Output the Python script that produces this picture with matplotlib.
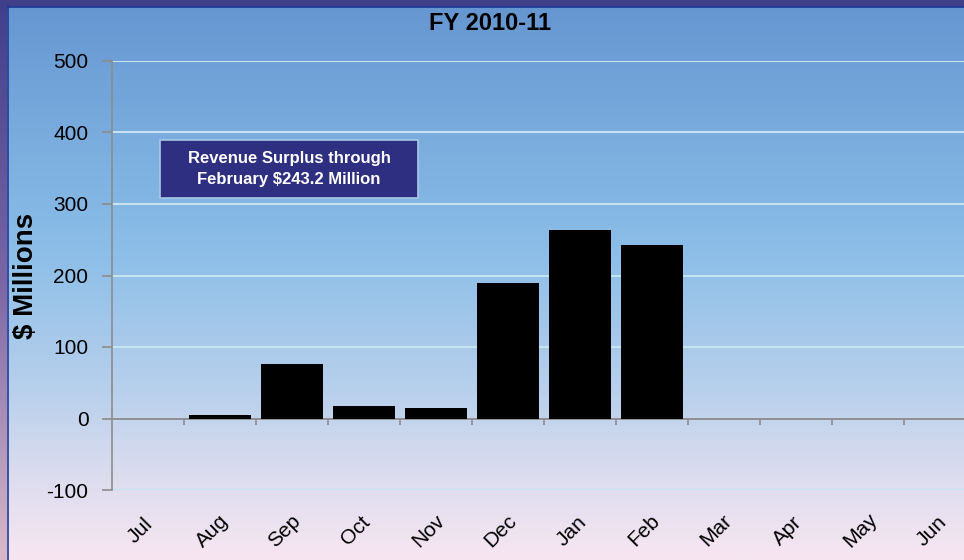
import matplotlib.pyplot as plt
import numpy as np
from matplotlib.colors import LinearSegmentedColormap
from matplotlib.patches import Rectangle

months = ["Jul", "Aug", "Sep", "Oct", "Nov", "Dec", "Jan", "Feb", "Mar", "Apr", "May", "Jun"]
surplus = [0, 5, 76, 18, 14, 190, 263, 243, 0, 0, 0, 0]
yticks = [-100, 0, 100, 200, 300, 400, 500]
note = "Revenue Surplus through\nFebruary $243.2 Million"

plt.rcParams['font.family'] = ['Liberation Sans', 'DejaVu Sans']

W, H = 964, 560
fig = plt.figure(figsize=(W / 100, H / 100), dpi=100)

# background gradient
bg = fig.add_axes([0, 0, 1, 1], zorder=-10)
bg_cmap = LinearSegmentedColormap.from_list(
    "bg", [(0, "#6595cf"), (0.2, "#76a8dc"), (0.45, "#8cbee8"),
           (0.7, "#b8d0ec"), (0.85, "#dcdcef"), (1, "#f7e6f1")])
bg.imshow(np.linspace(0, 1, 256).reshape(-1, 1), aspect="auto", cmap=bg_cmap,
          extent=[0, 1, 1, 0])
bg.set_xlim(0, 1)
bg.set_ylim(1, 0)
bg.axis("off")

# outer frame strips
left_cmap = LinearSegmentedColormap.from_list("lf", ["#3f3f8a", "#7a66a6", "#d9b9c9"])
lf = fig.add_axes([0, 0, 7 / W, 1], zorder=-5)
lf.imshow(np.linspace(0, 1, 256).reshape(-1, 1), aspect="auto", cmap=left_cmap)
lf.axis("off")
fig.patches.append(Rectangle((0, 1 - 6 / H), 1, 6 / H, transform=fig.transFigure,
                             color="#40408a", zorder=-4))
fig.lines.append(plt.Line2D([7.5 / W, 7.5 / W], [0, 1 - 6 / H], transform=fig.transFigure,
                            color="#1f3a96", lw=1.2))
fig.lines.append(plt.Line2D([7.5 / W, 1], [1 - 6.5 / H, 1 - 6.5 / H], transform=fig.transFigure,
                            color="#1f3a96", lw=1.2))

ax = fig.add_axes([112 / W, 70 / H, 864 / W, 429 / H])
ax.patch.set_alpha(0)
x = np.arange(len(months))
ax.bar(x, surplus, width=0.85, color="black", zorder=3)

ax.set_xlim(-0.5, len(months) - 0.5)
ax.set_ylim(-100, 500)
ax.set_yticks(yticks)
ax.set_yticklabels([str(v) for v in yticks], fontsize=15)
for v in yticks:
    if v != 0:
        ax.axhline(v, color="#c4e4f0", lw=1.5, zorder=1)
ax.axhline(0, color="#8c8c8c", lw=1.3, zorder=2)
ax.tick_params(axis="y", length=7, color="#8c8c8c", width=1.2, pad=10)

for s in ["top", "right", "bottom"]:
    ax.spines[s].set_visible(False)
ax.spines["left"].set_color("#8c8c8c")
ax.spines["left"].set_linewidth(1.2)

# category boundary ticks on the zero line
ax.set_xticks([])
ax.vlines(x[1:] - 0.5, -8.5, 0, color="#8c8c8c", lw=1.2, zorder=2)

for i, m in enumerate(months):
    ax.text(i - 0.11, -0.095, m, transform=ax.get_xaxis_transform(), rotation=45,
            ha="center", va="center", fontsize=15)

ax.set_ylabel("$ Millions", fontsize=20, fontweight="bold")
ax.yaxis.set_label_coords(-73 / 864, 0.5)

fig.text(490 / W, 1 - 23 / H, "FY 2010-11", ha="center", va="center",
         fontsize=17, fontweight="bold")

ax.add_patch(Rectangle((48 / 864, 292 / 429), 258 / 864, 58 / 429, transform=ax.transAxes,
                       facecolor="#2e2f80", edgecolor="#a8c8e8", lw=1.2, zorder=4))
ax.text((48 + 129) / 864, (292 + 29) / 429, note, transform=ax.transAxes,
        ha="center", va="center", color="white", fontsize=12, fontweight="bold",
        linespacing=1.45, zorder=5)

fig.savefig("out.png", dpi=100)
